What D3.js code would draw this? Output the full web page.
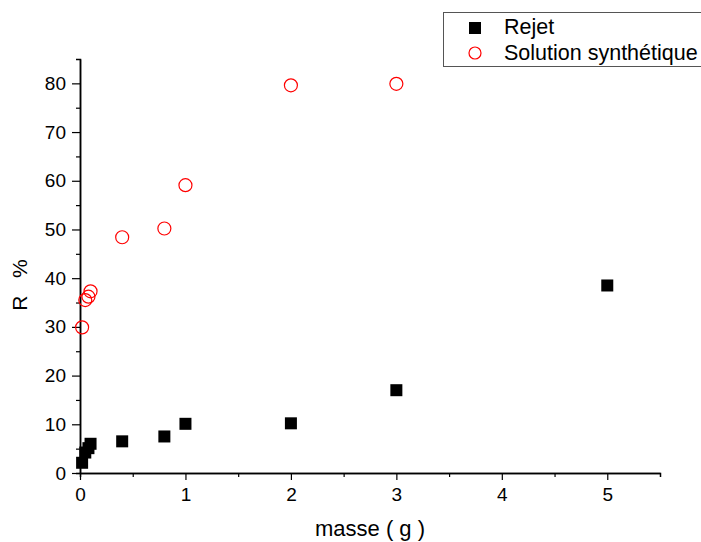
<!DOCTYPE html>
<meta charset="utf-8">
<script src="https://d3js.org/d3.v7.min.js"></script>
<style>
  body { margin: 0; background: #fff; }
  text { font-family: "Liberation Sans", Arial, sans-serif; }
</style>
<div class="canvas"></div>
<script>
    const width = 701
    const height = 542
    const margin = {"top": 59, "right": 41, "bottom": 69, "left": 80}
    const graphWidth = width - margin.left - margin.right
    const graphHeight = height - margin.top - margin.bottom

    // data
    const masse = [0.02, 0.05, 0.08, 0.1, 0.4, 0.8, 1, 2, 3, 5]
    const rejet = [2.1, 4.2, 5.1, 6, 6.5, 7.5, 10.1, 10.2, 17, 38.5]
    const masseSol = [0.02, 0.05, 0.08, 0.1, 0.4, 0.8, 1, 2, 3]
    const solution = [29.9, 35.5, 36.2, 37.3, 48.4, 50.2, 59.1, 79.6, 79.9]
    const seriesNames = ["Rejet", "Solution synthétique"]
    const xTicks = [0, 1, 2, 3, 4, 5]
    const yTicks = [0, 10, 20, 30, 40, 50, 60, 70, 80]

    const svg = d3.select(".canvas")
                .append("svg")
                .attr("width", width)
                .attr("height", height)

    const graph = svg.append("g")
                .attr("transform", `translate(${margin.left},${margin.top})`)

    const x = d3.scaleLinear().domain([0, 5.5]).range([0, graphWidth])
    const y = d3.scaleLinear().domain([0, 85]).range([graphHeight, 0])

    // minor ticks
    const gXMinor = graph.append("g").attr("transform", `translate(0,${graphHeight})`)
    gXMinor.call(d3.axisBottom(x).tickValues(d3.range(0.5, 5.5, 1)).tickSize(4).tickFormat(""))
    const gYMinor = graph.append("g")
    gYMinor.call(d3.axisLeft(y).tickValues(d3.range(5, 85, 10)).tickSize(4).tickFormat(""))

    const gXAxis = graph.append("g").attr("transform", `translate(0,${graphHeight})`)
    gXAxis.call(d3.axisBottom(x).tickValues(xTicks).tickSize(7).tickSizeOuter(0)
        .tickPadding(8).tickFormat(d3.format("d")))
    const gYAxis = graph.append("g")
    gYAxis.call(d3.axisLeft(y).tickValues(yTicks).tickSize(8).tickSizeOuter(0).tickPadding(6))

    graph.selectAll(".domain").attr("stroke", "#000").attr("stroke-width", 1.5)
    graph.selectAll(".tick line").attr("stroke", "#000").attr("stroke-width", 1.2)
    graph.selectAll(".tick text")
        .attr("font-size", 19)
        .attr("font-family", "Liberation Sans, Arial, sans-serif")
        .attr("fill", "#000")

    // axis titles
    svg.append("text")
        .attr("x", 370)
        .attr("y", 536)
        .attr("text-anchor", "middle")
        .style("font-size", "22px")
        .text("masse ( g )")

    svg.append("text")
        .attr("transform", `translate(27,285) rotate(-90)`)
        .attr("text-anchor", "middle")
        .style("font-size", "21px")
        .style("white-space", "pre")
        .text("R   %")

    // points
    const sq = 12
    graph.selectAll("rect.rejet").data(masse)
        .enter().append("rect")
        .attr("class", "rejet")
        .attr("x", d => x(d) - sq / 2)
        .attr("y", (d, i) => y(rejet[i]) - sq / 2)
        .attr("width", sq)
        .attr("height", sq)
        .attr("fill", "#000")

    graph.selectAll("circle.sol").data(masseSol)
        .enter().append("circle")
        .attr("class", "sol")
        .attr("cx", d => x(d))
        .attr("cy", (d, i) => y(solution[i]))
        .attr("r", 6.5)
        .attr("fill", "none")
        .attr("stroke", "#ff0000")
        .attr("stroke-width", 1.2)

    // legend
    const legend = svg.append("g")
    legend.append("rect")
        .attr("x", 443.5).attr("y", 12.5)
        .attr("width", 270).attr("height", 54)
        .attr("fill", "#fff").attr("stroke", "#555").attr("stroke-width", 1)
    legend.append("rect")
        .attr("x", 469).attr("y", 22).attr("width", 12).attr("height", 12)
        .attr("fill", "#000")
    legend.append("circle")
        .attr("cx", 475).attr("cy", 53).attr("r", 6)
        .attr("fill", "none").attr("stroke", "#ff0000").attr("stroke-width", 1.2)
    legend.selectAll("text.lab").data(seriesNames)
        .enter().append("text")
        .attr("class", "lab")
        .attr("x", 504)
        .attr("y", (d, i) => 34 + i * 26)
        .style("font-size", "21.5px")
        .text(d => d)
</script>
